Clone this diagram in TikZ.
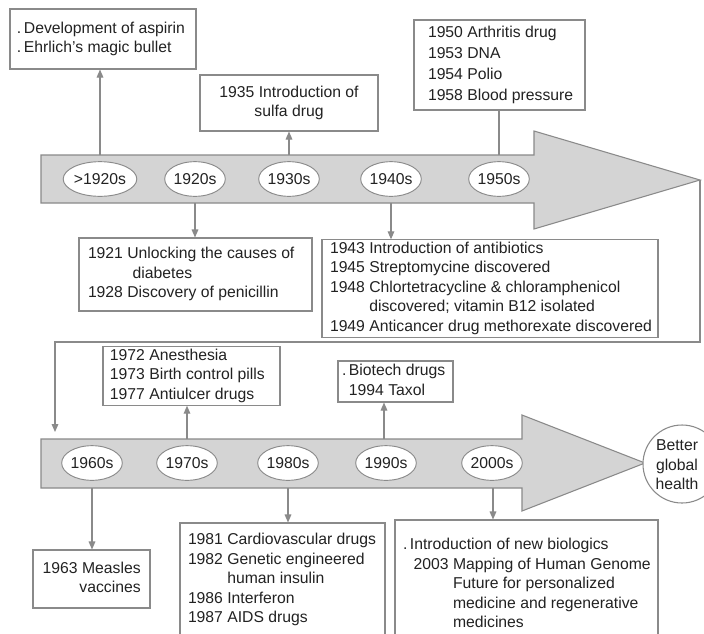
\documentclass[tikz,border=0pt]{standalone}
\usepackage{fontspec}
\setmainfont{Liberation Sans}
\usetikzlibrary{arrows.meta,shapes.geometric}
\definecolor{lineg}{HTML}{8A8A8A}
\definecolor{bandg}{HTML}{D4D4D4}
\definecolor{txt}{HTML}{222222}
\newcommand\fs{\fontsize{11.8}{14.6}\selectfont}
\newcommand\bul{.\,}
% fixed-width box content: total width, left padding, body
\newcommand\lcell[3]{\makebox[#1][l]{\hspace{#2}#3}}
% fixed-width box content, right aligned: total width, right padding, body
\newcommand\rcell[3]{\makebox[#1][r]{#3\hspace{#2}}}

\begin{document}
\begin{tikzpicture}[x=0.75pt,y=-0.75pt,
  band/.style={draw=lineg, fill=bandg, line width=0.8pt, line join=miter},
  era/.style={ellipse, draw=lineg, fill=white, line width=0.7pt,
    minimum width=45pt, minimum height=26pt, inner sep=0pt, font=\fs, text=txt},
  box/.style={draw=lineg, fill=white, line width=0.8pt, text=txt, font=\fs,
    inner xsep=0pt, inner ysep=0pt},
  link/.style={draw=lineg, line width=0.8pt},
  tip/.style={link, -{Triangle[length=6pt,width=5pt]}}]
\clip (0,0) rectangle (704,633);
\fill[white] (0,0) rectangle (704,633);

% ---------- first timeline band ----------
\draw[band] (41,155) -- (534,155) -- (534,131) -- (700,180) -- (534,229)
  -- (534,203) -- (41,203) -- cycle;
\node[era] (e1) at (100,179) {>1920s};
\node[era] (e2) at (195,179) {1920s};
\node[era] (e3) at (289,179) {1930s};
\node[era] (e4) at (391,179) {1940s};
\node[era] (e5) at (499,179) {1950s};

% ---------- second timeline band ----------
\draw[band] (41,439) -- (522,439) -- (522,415) -- (645,463) -- (522,511)
  -- (522,488) -- (41,488) -- cycle;
\node[era] (e6) at (92,463) {1960s};
\node[era] (e7) at (187,463) {1970s};
\node[era] (e8) at (288,463) {1980s};
\node[era] (e9) at (386,463) {1990s};
\node[era] (e10) at (492,463) {2000s};
\node[circle, draw=lineg, fill=white, line width=0.8pt, minimum size=58.5pt,
  inner sep=0pt] (goal) at (682,464) {};
\node[align=center, text=txt, inner sep=0pt,
  font=\fontsize{11.8}{14.6}\selectfont] (goaltxt) at (677,465)
  {Better\\global\\health};

% ---------- event boxes ----------
\node[box, minimum height=45pt] (b1) at (103,39)
  {\lcell{139.5pt}{5.25pt}{\begin{tabular}{@{}l@{}}
    \bul Development of aspirin\\\bul Ehrlich’s magic bullet\end{tabular}}};
\node[box, minimum height=42pt] (b2) at (289,103)
  {\makebox[133.5pt]{\begin{tabular}{@{}c@{}}
    1935 Introduction of\\sulfa drug\end{tabular}}};
\node[box, minimum height=67.5pt, font=\fontsize{11.8}{15.8}\selectfont]
  (b3) at (499.5,65)
  {\lcell{128.25pt}{10.5pt}{\begin{tabular}{@{}l@{}}
    1950 Arthritis drug\\1953 DNA\\1954 Polio\\1958 Blood pressure\end{tabular}}};
\node[box, minimum height=54.75pt] (b4) at (195.5,274.5)
  {\lcell{174.75pt}{6.75pt}{\begin{tabular}{@{}l@{ }l@{}}
    1921 & Unlocking the causes of\\
         & \hspace{4pt}diabetes\\
    1928 & Discovery of penicillin\end{tabular}}};
\node[box, minimum height=71.25pt] (b5) at (490,288.5)
  {\lcell{252pt}{6pt}{\begin{tabular}{@{}l@{ }l@{}}
    1943 & Introduction of antibiotics\\
    1945 & Streptomycine discovered\\
    1948 & Chlortetracycline \& chloramphenicol\\
         & discovered; vitamin B12 isolated\\
    1949 & Anticancer drug methorexate discovered\end{tabular}}};
\node[box, minimum height=43.5pt] (b6) at (191.5,376)
  {\lcell{132.75pt}{5.25pt}{\begin{tabular}{@{}l@{}}
    1972 Anesthesia\\1973 Birth control pills\\1977 Antiulcer drugs\end{tabular}}};
\node[box, minimum height=30.75pt] (b7) at (395.5,381.5)
  {\lcell{86.25pt}{3pt}{\begin{tabular}{@{}l@{}}
    \bul Biotech drugs\\\phantom{\bul}1994 Taxol\end{tabular}}};
\node[box, minimum height=43.5pt] (b8) at (91.5,579)
  {\rcell{87.75pt}{7pt}{\begin{tabular}{@{}r@{}}
    1963 Measles\\vaccines\end{tabular}}};
\node[box, minimum height=85.5pt] (b9) at (282.5,580)
  {\lcell{153.75pt}{6pt}{\begin{tabular}{@{}l@{ }l@{}}
    1981 & Cardiovascular drugs\\
    1982 & Genetic engineered\\
         & human insulin\\
    1986 & Interferon\\
    1987 & AIDS drugs\end{tabular}}};
\node[box, minimum height=97.5pt] (b10) at (526.5,585)
  {\lcell{197.25pt}{6pt}{\begin{tabular}{@{}l@{ }l@{}}
    \multicolumn{2}{@{}l@{}}{\bul Introduction of new biologics}\\
    \hspace{8pt}2003 & Mapping of Human Genome\\
         & Future for personalized\\
         & medicine and regenerative\\
         & medicines\end{tabular}}};

% ---------- connectors ----------
\coordinate (u1) at (100,155);
\coordinate (u2) at (289,155);
\coordinate (u3) at (499,155);
\coordinate (d1) at (195,203);
\coordinate (d2) at (391,203);
\coordinate (u4) at (187,439);
\coordinate (u5) at (384,439);
\coordinate (d3) at (92,488);
\coordinate (d4) at (288,488);
\coordinate (d5) at (493,488);
\coordinate (tipA) at (700,180);
\coordinate (wrapL) at (55,342);
\coordinate (entry) at (55,432);

\draw[tip] (u1) -- (u1 |- b1.south);
\draw[tip] (u2) -- (u2 |- b2.south);
\draw[link] (u3) -- (u3 |- b3.south);
\draw[tip] (d1) -- (d1 |- b4.north);
\draw[tip] (d2) -- (d2 |- b5.north);
\draw[tip] (tipA) |- (wrapL) -- (entry);
\draw[tip] (u4) -- (u4 |- b6.south);
\draw[tip] (u5) -- (u5 |- b7.south);
\draw[tip] (d3) -- (d3 |- b8.north);
\draw[tip] (d4) -- (d4 |- b9.north);
\draw[tip] (d5) -- (d5 |- b10.north);
\end{tikzpicture}
\end{document}
